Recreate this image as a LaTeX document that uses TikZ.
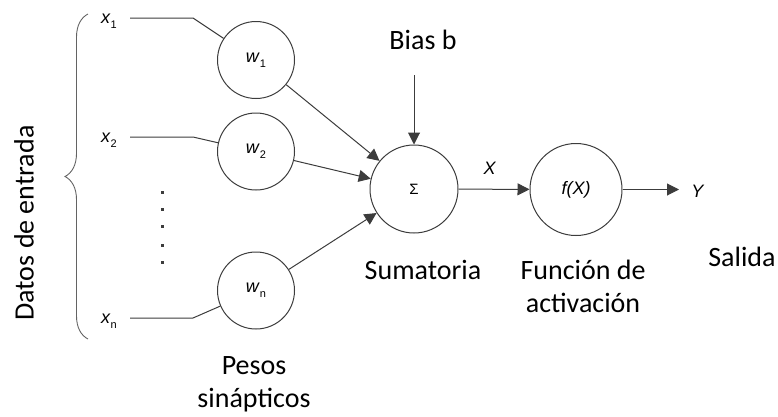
\documentclass[tikz,border=0pt]{standalone}
\usepackage{fontspec}
\usepackage{tikz}
\usetikzlibrary{arrows.meta}
\usetikzlibrary{positioning,backgrounds}
\usetikzlibrary{decorations.pathreplacing}
\newfontfamily\calib{Carlito}
\newfontfamily\arialf{Liberation Sans}
\pgfdeclarelayer{edgelayer}
\pgfdeclarelayer{nodelayer}
\pgfsetlayers{background,edgelayer,main,nodelayer}
\definecolor{ink}{RGB}{60,60,60}
\tikzstyle{none}=[inner sep=0mm]
\tikzstyle{txt}=[inner sep=0mm,font=\calib\fontsize{28}{33}\selectfont,align=center]
\tikzstyle{lab}=[inner sep=0mm,font=\arialf\fontsize{18}{18}\selectfont]
\tikzstyle{wn}=[shape=circle,draw=ink,line width=1pt,minimum size=77pt,inner sep=0pt,font=\arialf\fontsize{18}{18}\selectfont]
\tikzstyle{bign}=[wn,minimum size=88pt]
\tikzstyle{fn}=[wn,minimum size=92pt]
\tikzstyle{wire}=[draw=ink,line width=1pt]
\tikzstyle{arr}=[wire,-{Triangle[length=12pt,width=12pt]}]
\tikzstyle{dotn}=[shape=rectangle,fill=ink,minimum size=3pt,inner sep=0pt]
\newcommand{\subv}[2]{\textit{#1}\raisebox{-0.3em}{\fontsize{11}{11}\selectfont #2}}

\begin{document}
\begin{tikzpicture}[x=1pt,y=-1pt]
	\useasboundingbox (0,0) rectangle (778,416);
	\begin{pgfonlayer}{nodelayer}
		\node [style=lab] (x1) at (109, 21) {\subv{x}{1}};
		\node [style=lab] (x2) at (109, 140) {\subv{x}{2}};
		\node [style=lab] (xn) at (109, 321) {\subv{x}{n}};
		\node [style=wn] (w1) at (256, 60) {\subv{w}{1}};
		\node [style=wn] (w2) at (256, 151.5) {\subv{w}{2}};
		\node [style=wn] (wn) at (256, 290.5) {\subv{w}{n}};
		\node [style=bign] (sum) at (414, 189) {\fontsize{15}{15}\selectfont Σ};
		\node [style=fn] (act) at (576, 189.5) {\textit{f(X)}};
		\node [style=lab] (y) at (698, 191) {\textit{Y}};
		\node [style=lab] (xo) at (490, 168) {\textit{X}};
		\node [style=txt] (bias) at (423, 40) {Bias b};
		\node [style=txt] (sumt) at (423, 270) {Sumatoria};
		\node [style=txt] (actt) at (583, 286) {Función de\\activación};
		\node [style=txt] (out) at (742, 257) {Salida};
		\node [style=txt] (peso) at (254, 384) {Pesos\\sinápticos};
		\node [style=txt,rotate=90] (datos) at (24, 223) {Datos de entrada};
		\foreach \i/\yy in {1/192,2/209,3/226,4/245,5/262}
			\node [style=dotn] (d\i) at (162, \yy) {};
		\coordinate (s1) at (130, 18);
		\coordinate (k1) at (193, 18);
		\coordinate (s2) at (130, 137);
		\coordinate (k2) at (193, 137);
		\coordinate (sn) at (130, 318);
		\coordinate (kn) at (193, 318);
		\coordinate (b0) at (414, 75);
		\coordinate (yend) at (679, 189.5);
		\coordinate (br0) at (88, 339);
		\coordinate (br1) at (88, 14);
	\end{pgfonlayer}
	\begin{pgfonlayer}{edgelayer}
		\draw [style=wire] (s1) -- (k1) -- (w1);
		\draw [style=wire] (s2) -- (k2) -- (w2);
		\draw [style=wire] (sn) -- (kn) -- (wn);
		\draw [style=arr] (w1) -- (sum);
		\draw [style=arr] (w2) -- (sum);
		\draw [style=arr] (wn) -- (sum);
		\draw [style=arr] (b0) -- (sum);
		\draw [style=arr] (sum) -- (act);
		\draw [style=arr] (act) -- (yend);
		\draw [draw=ink!80,line width=0.9pt,decorate,decoration={brace,amplitude=23pt}] (br0) -- (br1);
	\end{pgfonlayer}
\end{tikzpicture}
\end{document}
